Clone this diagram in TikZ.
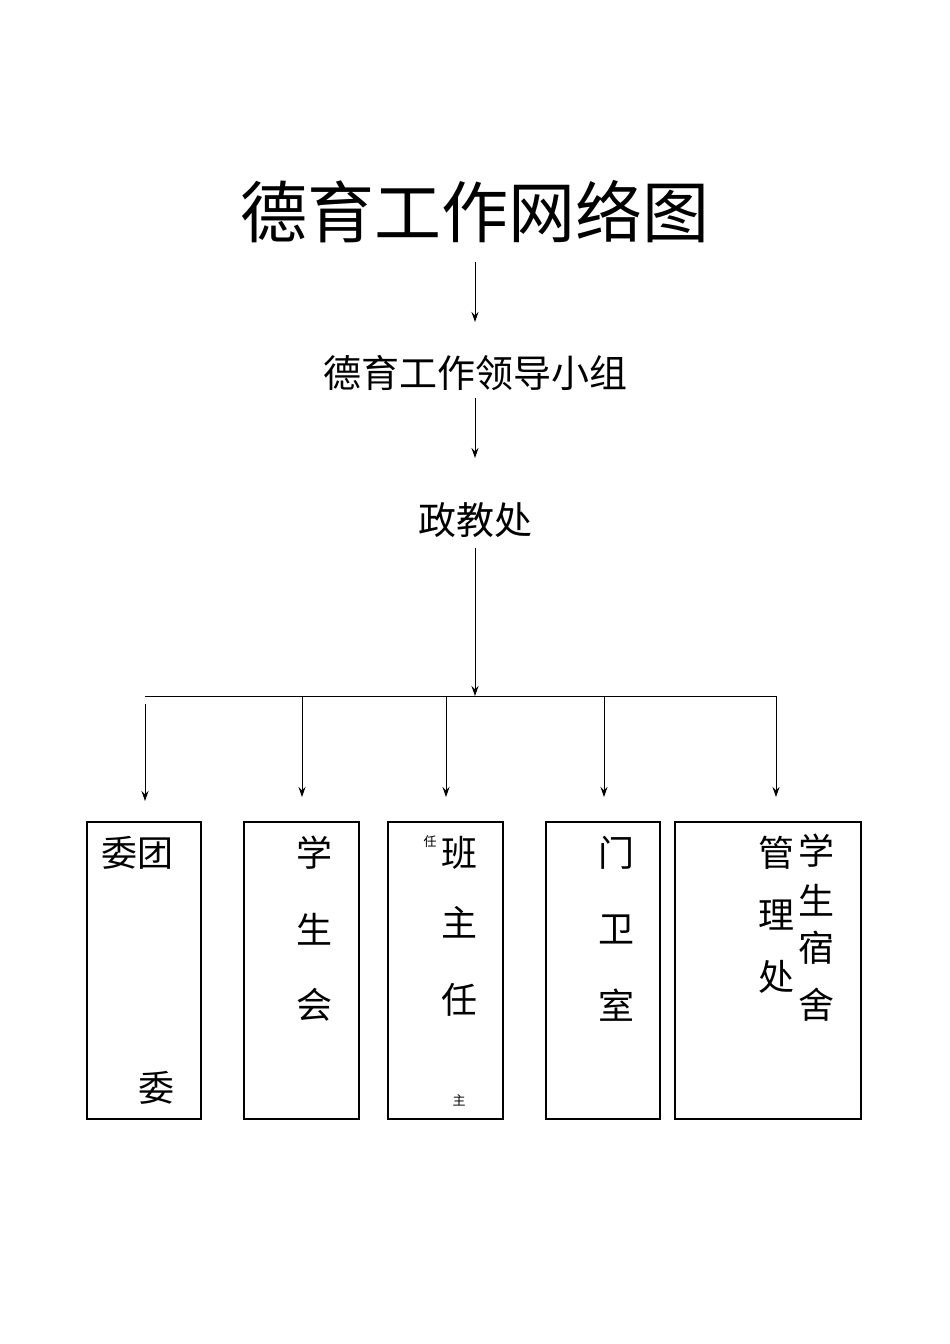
\documentclass[tikz,border=0pt]{standalone}
\usetikzlibrary{arrows.meta}
\usepackage{fontspec}
\newfontfamily\cjk{Noto Sans CJK SC}[Scale=1]
\tikzset{arr/.style={-{Stealth[length=10pt,width=7pt]},line width=1pt},
 box/.style={draw,line width=1.2pt},
 t/.style={font=\cjk\fontsize{36}{36}\selectfont,inner sep=0},
 s/.style={font=\cjk\fontsize{13}{13}\selectfont,inner sep=0}}
\begin{document}
\begin{tikzpicture}[x=1pt,y=-1pt]
\useasboundingbox (0,0) rectangle (950,1344);
\node[inner sep=0,font=\cjk\fontsize{67}{67}\selectfont] (title) at (475,212) {德育工作网络图};
\node[inner sep=0,font=\cjk\fontsize{38}{38}\selectfont] (lead) at (475,373) {德育工作领导小组};
\node[inner sep=0,font=\cjk\fontsize{38}{38}\selectfont] (zj) at (475,520) {政教处};
\coordinate (a1) at (475,262); \coordinate (a2) at (475,322);
\draw[arr] (a1) -- (a2);
\coordinate (b1) at (475,398); \coordinate (b2) at (475,458);
\draw[arr] (b1) -- (b2);
\coordinate (c1) at (475,548); \coordinate (c2) at (475,696);
\draw[arr] (c1) -- (c2);
\coordinate (hl) at (145,696); \coordinate (hr) at (776,696);
\draw[line width=1pt] (hl) -- (hr);
\foreach \x/\s/\e in {145/704/801,302/696/797,446/696/797,604/696/797,776/696/797}{
 \coordinate (p\x) at (\x,\s); \coordinate (q\x) at (\x,\e);
 \draw[arr] (p\x) -- (q\x);}
\node[box,minimum width=114pt,minimum height=297pt,inner sep=0] (B1) at (144,970.5) {};
\node[box,minimum width=115pt,minimum height=297pt,inner sep=0] (B2) at (301.5,970.5) {};
\node[box,minimum width=115pt,minimum height=297pt,inner sep=0] (B3) at (445.5,970.5) {};
\node[box,minimum width=114pt,minimum height=297pt,inner sep=0] (B4) at (603,970.5) {};
\node[box,minimum width=186pt,minimum height=297pt,inner sep=0] (B5) at (768,970.5) {};
\node[t] (t1) at (137,853) {委团};
\node[t] (t2) at (156,1088) {委};
\node[t] (x1) at (314,853) {学};
\node[t] (x2) at (314,929) {生};
\node[t] (x3) at (314,1005) {会};
\node[s] (r0) at (430,842) {任};
\node[t] (r1) at (459,853) {班};
\node[t] (r2) at (459,922) {主};
\node[t] (r3) at (459,1000) {任};
\node[s] (r4) at (459,1100) {主};
\node[t] (m1) at (616,853) {门};
\node[t] (m2) at (616,929) {卫};
\node[t] (m3) at (616,1005) {室};
\node[t] (d1) at (816,851) {学};
\node[t] (d2) at (816,900) {生};
\node[t] (d3) at (816,948) {宿};
\node[t] (d4) at (816,1005) {舍};
\node[t] (g1) at (776,853) {管};
\node[t] (g2) at (776,915) {理};
\node[t] (g3) at (776,977) {处};
\end{tikzpicture}
\end{document}
